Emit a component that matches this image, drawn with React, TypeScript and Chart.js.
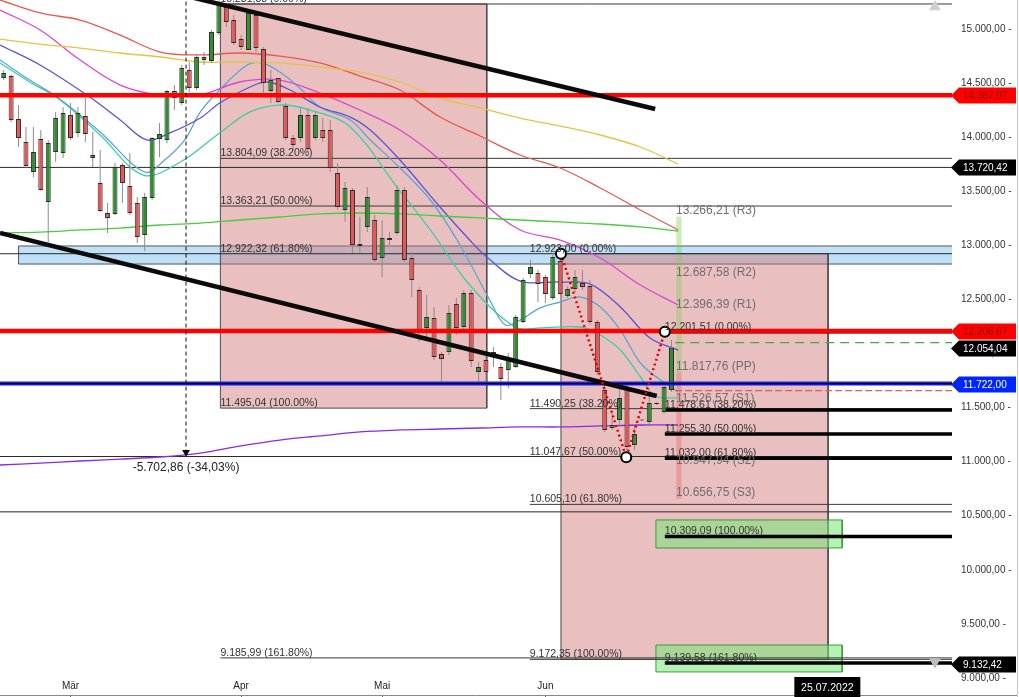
import React, { useEffect, useRef } from 'react';
import { Chart, registerables } from 'chart.js';

Chart.register(...registerables);

const FONT = '"Liberation Sans", Arial, Helvetica, sans-serif';

// ---------- candles: daily, index 0 = 1 March 2022 ----------
const firstCandleIndex = -9;
const opens = [
  14547, 14565, 14168, 13955, 13678, 13983, 13401, 13863, 13854, 14205,
  14039, 14196, 13807, 13576, 13299, 13290, 13743, 13549, 13391, 13096,
  13438, 13983, 13974, 14427, 14316, 14621, 14455, 14713, 14704, 14963,
  15203, 15083, 14907, 14806, 15129, 14815, 14427, 14547, 14288, 13992,
  13992, 14205, 13992, 14066, 14066, 13669, 13327, 13512, 13012, 13170,
  13234, 12883, 13068, 13114, 13512, 12883, 12587, 12236, 12328, 11995,
  12014, 12458, 12245, 12559, 11829, 11940, 11968, 11875, 11847, 11875,
  12291, 12735, 12744, 12707, 12513, 12855, 12532, 12596, 12652, 12624,
  12291, 11663, 11339, 11385, 11681, 11154, 11390, 11367, 11533, 11459, 11663,
];
const highs = [
  14621, 14580, 14297, 14094, 14094, 14066, 13974, 14233, 14279, 14316,
  14279, 14362, 14048, 13881, 13391, 13761, 13761, 13854, 13447, 13484,
  14002, 14131, 14436, 14482, 14667, 14695, 14760, 14787, 14991, 15265,
  15240, 15129, 14944, 15176, 15148, 14833, 14621, 14547, 14316, 14020,
  14270, 14270, 14233, 14177, 14159, 13761, 13585, 13530, 13262, 13540,
  13280, 13234, 13123, 13558, 13540, 12938, 12615, 12541, 12430, 12014,
  12448, 12513, 12587, 12587, 11921, 12005, 12060, 11912, 12005, 12356,
  12698, 12864, 12772, 12726, 12929, 12929, 12624, 12772, 12772, 12680,
  12310, 11755, 11450, 11681, 11700, 11311, 11395, 11616, 11550, 11709, 12125,
];
const lows = [
  14528, 14140, 13909, 13715, 13632, 13505, 13031, 13770, 13807, 13974,
  14002, 13955, 13724, 13308, 13114, 13280, 13391, 13280, 13022, 12948,
  13419, 13817, 13946, 14251, 14297, 14418, 14436, 14667, 14686, 14944,
  15018, 14852, 14806, 14806, 14787, 14390, 14316, 14316, 13974, 13881,
  13955, 13863, 13974, 13955, 13678, 13327, 13216, 12929, 12929, 13123,
  12846, 12707, 13003, 13096, 12846, 12522, 12106, 12125, 11940, 11727,
  11986, 12171, 12217, 11875, 11727, 11727, 11875, 11570, 11681, 11866,
  12282, 12698, 12476, 12467, 12495, 12541, 12513, 12568, 12587, 12263,
  11801, 11275, 11293, 11321, 11108, 11108, 11375, 11348, 11525, 11441, 11644,
];
const closes = [
  14593, 14159, 13992, 13733, 13863, 13512, 13946, 14177, 14223, 13992,
  14223, 14029, 13835, 13317, 13253, 13724, 13576, 13299, 13077, 13447,
  13992, 14029, 14427, 14362, 14639, 14455, 14741, 14741, 14972, 15240,
  15065, 14870, 14833, 15148, 14824, 14501, 14528, 14325, 13992, 13927,
  14205, 13891, 14205, 13992, 13715, 13354, 13530, 13003, 12994, 13447,
  12864, 13068, 13049, 13512, 12864, 12680, 12199, 12337, 11968, 11949,
  12374, 12236, 12559, 11931, 11875, 11829, 12014, 11764, 11940, 12337,
  12680, 12800, 12643, 12550, 12892, 12550, 12596, 12707, 12615, 12291,
  11829, 11293, 11311, 11589, 11136, 11256, 11380, 11542, 11540, 11690, 12054,
];

// ---------- axis ----------
const monthTicks = [0, 23, 42, 64];
const monthLabels = ['Mär', 'Apr', 'Mai', 'Jun'];
const yTicks = [9000, 9500, 10000, 10500, 11000, 11500, 12000, 12500, 13000, 13500, 14000, 14500, 15000];
const X_MIN = -9.5;
const X_MAX = 118.8;
const Y_MIN = 8842.8;
const Y_MAX = 15268.1;

// ---------- moving averages [candle index, value] ----------
const maRed = [[-9.5, 15268], [-4.1, 15148], [1.3, 15083], [6.7, 14944], [12.1, 14787], [17.5, 14760], [22.8, 14778], [28.2, 14750], [33.6, 14686], [39, 14565], [44.4, 14436], [49.8, 14186], [55.2, 14011], [60.6, 13835], [66, 13715], [71.4, 13530], [76.8, 13327], [81.9, 13142]];
const maYellow = [[-9.5, 14907], [-4.1, 14861], [1.3, 14824], [6.7, 14778], [12.1, 14741], [17.5, 14695], [22.8, 14695], [28.2, 14686], [33.6, 14649], [39, 14602], [44.4, 14510], [49.8, 14362], [55.2, 14270], [60.6, 14177], [66, 14103], [71.4, 14020], [76.8, 13909], [81.9, 13752]];
const maGreen = [[-9.5, 13114], [-4.1, 13123], [1.3, 13142], [6.7, 13160], [12.1, 13188], [17.5, 13206], [22.8, 13234], [28.2, 13262], [33.6, 13290], [39, 13299], [44.4, 13290], [49.8, 13271], [55.2, 13253], [60.6, 13234], [66, 13216], [71.4, 13197], [76.8, 13170], [81.9, 13132]];
const maViolet = [[-9.5, 10969], [-4.1, 10987], [1.3, 11006], [6.7, 11024], [12.1, 11043], [17.5, 11079], [22.8, 11144], [28.2, 11200], [33.6, 11238], [39, 11275], [44.4, 11293], [49.8, 11302], [55.2, 11311], [60.6, 11321], [66, 11321], [71.4, 11330], [76.8, 11339], [81.9, 11339]];
const maMagenta = [[-9.5, 15176], [-4.1, 14991], [1.3, 14713], [6.7, 14482], [12.1, 14390], [17.5, 14390], [22.8, 14510], [28.2, 14528], [33.6, 14408], [39, 14251], [44.4, 14066], [49.8, 13789], [55.2, 13419], [60.6, 13142], [66, 13049], [71.4, 12883], [76.8, 12633], [81.9, 12448]];
const maBlue = [[-9.5, 14852], [-4.1, 14667], [2.6, 14371], [6.7, 14159], [10.3, 13974], [13.4, 14039], [17.5, 14177], [20.1, 14316], [24.2, 14464], [26.6, 14510], [29.6, 14436], [33.6, 14279], [37.7, 14186], [40.4, 14066], [44.4, 13789], [49.8, 13354], [53.8, 13049], [56.1, 12892], [60.6, 12670], [66, 12661], [70, 12643], [74.1, 12430], [78.1, 12143], [81.9, 12032]];
const maCyan = [[-9.5, 14713], [-5.5, 14528], [-1.8, 14371], [4.0, 14048], [10.0, 13678], [12.7, 13789], [15.4, 13974], [17.5, 14233], [20.1, 14436], [23.8, 14667], [25.8, 14686], [28.2, 14602], [30.9, 14455], [33.6, 14279], [37.7, 14159], [40.4, 13974], [44.0, 13743], [48.5, 13419], [52.5, 13003], [56.5, 12495], [58.6, 12263], [60.6, 12310], [63.3, 12421], [66, 12476], [68.7, 12522], [71.4, 12430], [74.1, 12217], [76.8, 11912], [79.5, 11755], [81.9, 11644]];
const maTeal = [[-9.5, 14686], [-5.5, 14510], [-1.4, 14344], [4.0, 14020], [9.8, 13650], [14.8, 13770], [20.1, 14039], [24.2, 14233], [28.2, 14297], [32.3, 14251], [37.7, 14094], [44.0, 13539], [48.5, 13142], [53.8, 12633], [59.9, 12245], [63.3, 12236], [68.7, 12245], [71.4, 12171], [74.1, 12032], [76.8, 11785], [78.8, 11607], [81.9, 11589]];

// ---------- drawing tools ----------
const trendUpper = [[16.5, 15290], [78.8, 14260]];
const trendLower = [[-9.5, 13114], [79.0, 11607]];
const zigzag = [[66.1, 12923], [74.9, 11040], [80.1, 12201.51]];

const fib1Levels = [15231.38, 13804.09, 13363.21, 12922.32, 11495.04, 9185.99];
const fib1Pct = ['0.00%', '38.20%', '50.00%', '61.80%', '100.00%', '161.80%'];
const fib1Start = 20.2;
const fib1End = 56.1;

const fib2Levels = [12923.0, 11490.25, 11047.67, 10605.1, 9172.35];
const fib2Pct = ['0.00%', '38.20%', '50.00%', '61.80%', '100.00%'];
const fib2Start = 61.9;
const fib2BoxStart = 66.1;
const fib2BoxEnd = 102.1;

const fib3Levels = [12201.51, 11478.61, 11255.3, 11032.0, 10309.09, 9139.58];
const fib3Pct = ['0.00%', '38.20%', '50.00%', '61.80%', '100.00%', '161.80%'];
const fib3Start = 80.1;

const pivotLevels = [13266.21, 12687.58, 12396.39, 11817.76, 11526.57, 10947.94, 10656.75];
const pivotNames = ['R3', 'R2', 'R1', 'PP', 'S1', 'S2', 'S3'];
const pivotX = 81.6;
const pivotBarX = 82.0;

const redLevels = [14387.07, 12208.67];
const blueLevel = 11722.0;
const fullThinLevels = [13720.42, 12922.32, 11047.67, 10536];
const greenDashLevel = 12100;
const redDashLevel = 11656;

const band = { x1: -7.0, top: 12994, bottom: 12827 };
const greenBoxX = [78.9, 104.0];
const greenBoxes = [[10461, 10202], [9305, 9056]];

const measureX = 15.57;
const measureBottom = 11052;
const measureText = '-5.702,86 (-34,03%)';
const cursorX = 102;
const cursorText = '25.07.2022';

const tagValues = [14387.07, 13720.42, 12208.67, 12054.04, 11722.0, 9132.42];
const tagBg = ['#ff0000', '#000000', '#ff0000', '#000000', '#0026ff', '#000000'];
const tagFg = ['#8a0000', '#ffffff', '#8a0000', '#ffffff', '#ffffff', '#ffffff'];

function fmt(v: number): string {
  const s = Math.abs(v).toFixed(2);
  const [i, d] = s.split('.');
  const withDots = i.replace(/\B(?=(\d{3})+(?!\d))/g, '.');
  return (v < 0 ? '-' : '') + withDots + ',' + d;
}

const pts = (arr: number[][]) => arr.map(([x, y]) => ({ x, y }));

function hLine(x1: number, x2: number, v: number, color: string, width: number, order: number, dash: number[] = []) {
  return {
    type: 'line', data: [{ x: x1, y: v }, { x: x2, y: v }], borderColor: color, borderWidth: width,
    borderDash: dash, pointRadius: 0, fill: false, tension: 0, order,
  };
}
function rectFill(x1: number, x2: number, top: number, bottom: number, color: string, order: number) {
  return {
    type: 'line', data: [{ x: x1, y: top }, { x: x2, y: top }], borderColor: 'rgba(0,0,0,0)', borderWidth: 1,
    backgroundColor: color, fill: { value: bottom }, pointRadius: 0, tension: 0, order,
  };
}
function rectOutline(x1: number, x2: number, top: number, bottom: number, color: string, order: number) {
  return {
    type: 'line',
    data: [{ x: x1, y: top }, { x: x2, y: top }, { x: x2, y: bottom }, { x: x1, y: bottom }, { x: x1, y: top }],
    borderColor: color, borderWidth: 1, pointRadius: 0, fill: false, tension: 0, order,
  };
}
function maLine(arr: number[][], color: string) {
  return { type: 'line', data: pts(arr), borderColor: color, borderWidth: 1.3, pointRadius: 0, fill: false, tension: 0.35, order: 85 };
}
function zeroPad(s: any) {
  s.paddingLeft = 0;
  s.paddingRight = 0;
  s.paddingTop = 0;
  s.paddingBottom = 0;
}

const overlayPlugin = {
  id: 'overlay',
  afterDatasetsDraw(chart: any) {
    const { ctx, scales, chartArea } = chart;
    const xs = scales.x;
    const ys = scales.y;
    ctx.save();
    ctx.textAlign = 'left';
    ctx.textBaseline = 'alphabetic';
    ctx.font = `10.5px ${FONT}`;
    ctx.fillStyle = '#333';
    fib1Levels.forEach((v, k) => ctx.fillText(`${fmt(v)} (${fib1Pct[k]})`, xs.getPixelForValue(fib1Start), ys.getPixelForValue(v) - 2));
    fib2Levels.forEach((v, k) => ctx.fillText(`${fmt(v)} (${fib2Pct[k]})`, xs.getPixelForValue(fib2Start), ys.getPixelForValue(v) - 2));
    fib3Levels.forEach((v, k) => ctx.fillText(`${fmt(v)} (${fib3Pct[k]})`, xs.getPixelForValue(fib3Start), ys.getPixelForValue(v) - 2));
    ctx.font = `12px ${FONT}`;
    ctx.fillStyle = '#6e6e6e';
    pivotLevels.forEach((v, k) => ctx.fillText(`${fmt(v)} (${pivotNames[k]})`, xs.getPixelForValue(pivotX), ys.getPixelForValue(v) - 3));
    ctx.fillStyle = '#222';
    ctx.textAlign = 'center';
    ctx.fillText(measureText, xs.getPixelForValue(measureX), ys.getPixelForValue(measureBottom) + 15);
    // month labels of the time axis
    ctx.font = `10px ${FONT}`;
    ctx.textBaseline = 'middle';
    ctx.fillStyle = '#222';
    monthTicks.forEach((v, k) => ctx.fillText(monthLabels[k], xs.getPixelForValue(v), chartArea.bottom - 9));
    ctx.restore();
  },
  afterDraw(chart: any) {
    const { ctx, scales, chartArea } = chart;
    const xs = scales.x;
    const ys = scales.y;
    ctx.save();
    // bottom frame under the value axis
    ctx.strokeStyle = '#888';
    ctx.lineWidth = 1;
    ctx.beginPath();
    ctx.moveTo(chartArea.right, chartArea.bottom + 0.5);
    ctx.lineTo(chart.width - 1, chartArea.bottom + 0.5);
    ctx.stroke();
    ctx.font = `10px ${FONT}`;
    ctx.textBaseline = 'middle';
    ctx.textAlign = 'left';
    const tip = chartArea.right - 1;
    const bodyL = chartArea.right + 7;
    const right = chart.width - 3;
    tagValues.forEach((v, k) => {
      const y = Math.round(ys.getPixelForValue(v)) + 0.5;
      const h = 16;
      ctx.beginPath();
      ctx.moveTo(tip, y);
      ctx.lineTo(bodyL, y - h / 2);
      ctx.lineTo(right, y - h / 2);
      ctx.lineTo(right, y + h / 2);
      ctx.lineTo(bodyL, y + h / 2);
      ctx.closePath();
      ctx.fillStyle = tagBg[k];
      ctx.fill();
      ctx.fillStyle = tagFg[k];
      ctx.fillText(fmt(v), bodyL + 4, y + 0.5);
    });
    // cursor date box
    const cx = xs.getPixelForValue(cursorX);
    ctx.fillStyle = '#000';
    ctx.fillRect(cx - 33, chartArea.bottom - 18, 66, 21);
    ctx.fillStyle = '#fff';
    ctx.textAlign = 'center';
    ctx.font = `10.5px ${FONT}`;
    ctx.fillText(cursorText, cx, chartArea.bottom - 7);
    // right frame
    ctx.strokeStyle = '#c8c8c8';
    ctx.lineWidth = 1;
    ctx.beginPath();
    ctx.moveTo(chart.width - 1.5, 0);
    ctx.lineTo(chart.width - 1.5, chart.height);
    ctx.stroke();
    ctx.restore();
  },
};

export default function App() {
  const ref = useRef<HTMLCanvasElement>(null);

  useEffect(() => {
    document.body.style.margin = '0';
    Chart.defaults.font.family = FONT;
    const canvas = ref.current;
    if (!canvas) return;

    const idx = opens.map((_, k) => firstCandleIndex + k);
    const wickData = idx.map((x, k) => ({ x, y: [lows[k], highs[k]] }));
    const bodyData = idx.map((x, k) => ({ x, y: [opens[k], closes[k]] }));
    const bodyColors = opens.map((o, k) => (closes[k] >= o ? '#2f8f2f' : '#e25656'));

    const datasets: any[] = [];
    // blue zone
    datasets.push(rectFill(band.x1, X_MAX, band.top, band.bottom, '#bfe0f7', 100));
    datasets.push(rectOutline(band.x1, X_MAX + 1, band.top, band.bottom, '#555', 99));
    // fib boxes
    datasets.push(rectFill(fib1Start, fib1End, fib1Levels[0], fib1Levels[4], 'rgba(208,112,112,0.45)', 98));
    datasets.push(rectOutline(fib1Start, fib1End, fib1Levels[0], fib1Levels[4], '#4a4a4a', 97));
    datasets.push(rectFill(fib2BoxStart, fib2BoxEnd, fib2Levels[0], fib2Levels[4], 'rgba(208,112,112,0.45)', 98));
    datasets.push(rectOutline(fib2BoxStart, fib2BoxEnd, fib2Levels[0], fib2Levels[4], '#4a4a4a', 97));
    greenBoxes.forEach(([t, b]) => {
      datasets.push(rectFill(greenBoxX[0], greenBoxX[1], t, b, 'rgba(120,232,120,0.55)', 96));
      datasets.push(rectOutline(greenBoxX[0], greenBoxX[1], t, b, '#3c9a3c', 95));
    });
    // pivot column
    datasets.push({
      type: 'bar', data: [{ x: pivotBarX, y: [pivotLevels[3], pivotLevels[0]] }, { x: pivotBarX, y: [pivotLevels[6], pivotLevels[3]] }],
      backgroundColor: ['rgba(130,205,95,0.4)', 'rgba(230,95,95,0.35)'], borderWidth: 0,
      grouped: false, maxBarThickness: 6, order: 94,
    });
    // thin levels
    [fib1Levels[0], fib1Levels[1], fib1Levels[2], fib1Levels[5]].forEach((v) => datasets.push(hLine(fib1Start, X_MAX, v, '#3a3a3a', 1, 90)));
    fullThinLevels.forEach((v) => datasets.push(hLine(X_MIN, X_MAX, v, '#2a2a2a', 1, 90)));
    [fib2Levels[1], fib2Levels[3], fib2Levels[4]].forEach((v) => datasets.push(hLine(fib2Start, X_MAX, v, '#3a3a3a', 1, 90)));
    // moving averages
    datasets.push(maLine(maGreen, '#49cc3c'));
    datasets.push(maLine(maViolet, '#8a2be2'));
    datasets.push(maLine(maYellow, '#e2c444'));
    datasets.push(maLine(maRed, '#e65a4c'));
    datasets.push(maLine(maMagenta, '#dd44d4'));
    datasets.push(maLine(maBlue, '#5a52d8'));
    datasets.push(maLine(maCyan, '#5aa6d2'));
    datasets.push(maLine(maTeal, '#3ccfa6'));
    // dashed markers
    datasets.push(hLine(81.5, X_MAX, greenDashLevel, '#4aa84a', 1.2, 84, [9, 6]));
    datasets.push(hLine(81.5, X_MAX, redDashLevel, '#d86060', 1.2, 84, [7, 3]));
    // fib 3 thick lines
    fib3Levels.forEach((v) => datasets.push(hLine(fib3Start, X_MAX, v, '#000', 3.5, 82)));
    // candles
    datasets.push({ type: 'bar', data: wickData, backgroundColor: '#8c8c8c', borderWidth: 0, grouped: false, maxBarThickness: 1, order: 71 });
    datasets.push({
      type: 'bar', data: bodyData, backgroundColor: bodyColors, borderColor: '#2b2b2b', borderWidth: 1,
      borderSkipped: false, grouped: false, maxBarThickness: 5, minBarLength: 1, order: 70,
    });
    // thick red / blue levels
    redLevels.forEach((v) => datasets.push(hLine(X_MIN, X_MAX, v, '#ff0000', 4.5, 65)));
    datasets.push(hLine(X_MIN, X_MAX, blueLevel, '#1a1aff', 4, 65));
    datasets.push(hLine(X_MIN, X_MAX, blueLevel, '#000', 1.2, 64));
    // trend lines
    datasets.push({ type: 'line', data: pts(trendUpper), borderColor: '#0b0b0b', borderWidth: 4.5, pointRadius: 0, fill: false, order: 60 });
    datasets.push({ type: 'line', data: pts(trendLower), borderColor: '#0b0b0b', borderWidth: 4.5, pointRadius: 0, fill: false, order: 60 });
    // zigzag + pivots circles
    datasets.push({ type: 'line', data: pts(zigzag), borderColor: '#e00000', borderWidth: 2.5, borderDash: [2, 3], pointRadius: 0, fill: false, order: 55 });
    datasets.push({
      type: 'line', data: pts(zigzag), showLine: false, pointRadius: 5, pointBackgroundColor: '#fff',
      pointBorderColor: '#000', pointBorderWidth: 2, order: 50,
    });
    // measurement
    datasets.push({ type: 'line', data: [{ x: measureX, y: Y_MAX + 50 }, { x: measureX, y: measureBottom }], borderColor: '#111', borderWidth: 1, borderDash: [4, 3], pointRadius: 0, fill: false, order: 50 });
    datasets.push({
      type: 'line', data: [{ x: measureX, y: measureBottom + 35 }], showLine: false, pointStyle: 'triangle', rotation: 180,
      pointRadius: 4.5, pointBackgroundColor: '#000', pointBorderColor: '#000', pointBorderWidth: 0, order: 50,
    });
    // scroll markers
    datasets.push({
      type: 'line', data: [{ x: 116.5, y: 15205 }], showLine: false, pointStyle: 'triangle',
      pointRadius: 6, pointBackgroundColor: '#cfcfcf', pointBorderColor: '#cfcfcf', order: 50,
    });
    datasets.push({
      type: 'line', data: [{ x: 116.5, y: 9150 }], showLine: false, pointStyle: 'triangle', rotation: 180,
      pointRadius: 6, pointBackgroundColor: '#bdbdbd', pointBorderColor: '#bdbdbd', order: 50,
    });

    const chart = new Chart(canvas, {
      type: 'line',
      data: { datasets },
      options: {
        responsive: false,
        animation: false,
        events: [],
        layout: { padding: 0, autoPadding: false },
        plugins: { legend: { display: false }, tooltip: { enabled: false } },
        scales: {
          x: {
            type: 'linear',
            min: X_MIN,
            max: X_MAX,
            offset: false,
            position: 'bottom',
            afterFit: (s: any) => { s.height = 2; zeroPad(s); },
            afterBuildTicks: (s: any) => { s.ticks = monthTicks.map((v) => ({ value: v })); },
            ticks: { display: false, autoSkip: false, maxRotation: 0 },
            grid: { display: true, offset: false, drawOnChartArea: false, drawTicks: true, tickLength: 2, color: '#666' },
            border: { display: true, color: '#888' },
          },
          y: {
            type: 'linear',
            position: 'right',
            min: Y_MIN,
            max: Y_MAX,
            afterFit: (s: any) => { s.width = 67; zeroPad(s); },
            afterBuildTicks: (s: any) => { s.ticks = yTicks.map((v) => ({ value: v })); },
            ticks: {
              padding: 9, color: '#333', font: { size: 10, family: FONT },
              callback: (v: any) => `${fmt(Number(v))} -`,
            },
            grid: { display: false, drawTicks: false },
            border: { display: false },
          },
        },
      } as any,
      plugins: [overlayPlugin],
    } as any);

    return () => chart.destroy();
  }, []);

  return (
    <div style={{ position: 'fixed', left: 0, top: 0, width: 1019, height: 697, background: '#fff' }}>
      <canvas ref={ref} width={1019} height={697} style={{ display: 'block', width: 1019, height: 697 }} />
    </div>
  );
}
